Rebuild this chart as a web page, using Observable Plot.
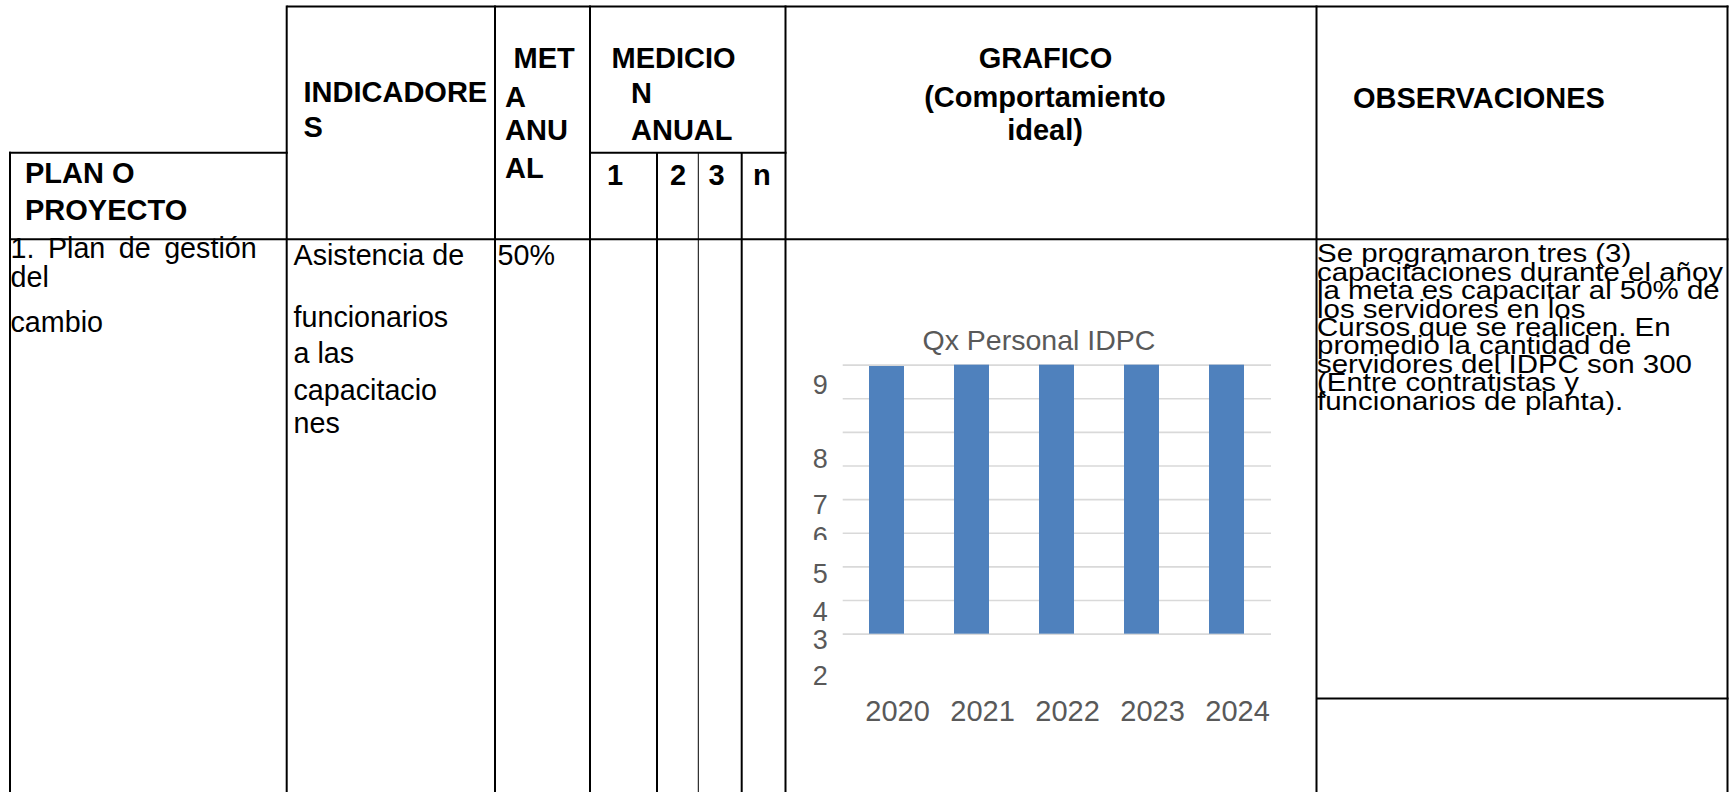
<!DOCTYPE html>
<html>
<head>
<meta charset="utf-8">
<script src="https://cdn.jsdelivr.net/npm/d3@7"></script>
<script src="https://cdn.jsdelivr.net/npm/@observablehq/plot@0.6"></script>
<style>
  html, body { margin: 0; padding: 0; background: #fff; }
  #page { position: relative; width: 1733px; height: 792px; overflow: hidden; font-family: "Liberation Sans", Arial, sans-serif; }
  #table { position: absolute; left: 0; top: 0; }
  #chart { position: absolute; left: 786px; top: 239px; }
  #obs { position: absolute; left: 1317px; top: 244.4px; font-size: 26.3px; line-height: 18.4px;
         white-space: pre; color: #000; transform: scaleX(1.12); transform-origin: 0 0; margin: 0; }
  #plan { position: absolute; left: 10.5px; top: 234.2px; font-size: 28.7px; line-height: 28.4px;
          white-space: pre; color: #000; word-spacing: 5.5px; margin: 0; }
</style>
</head>
<body>
<div id="page">
  <svg id="table" width="1733" height="792"></svg>
  <div id="chart"></div>
  <div id="plan"></div>
  <div id="obs"></div>
</div>
<script>
// ---------- chart data ----------
const years = ["2020", "2021", "2022", "2023", "2024"];
const values = [7.96, 8, 8, 8, 8];
const gridValues = [0, 1, 2, 3, 4, 5, 6, 7, 8];
const yTickLabels = ["9", "8", "7", "6", "5", "4", "3", "2"];
const yTickPositions = [7.40, 5.21, 3.83, 2.88, 1.77, 0.65, -0.19, -1.24];
const clippedLabel = "6";
const clipBelow = 2.80;
const chartTitle = "Qx Personal IDPC";

// ---------- table texts ----------
const headerTexts = ["INDICADORE", "S", "MET", "A", "ANU", "AL", "MEDICIO", "N", "ANUAL", "1", "2", "3", "n",
  "GRAFICO", "(Comportamiento", "ideal)", "OBSERVACIONES", "PLAN O", "PROYECTO"];
const planTexts = ["1. Plan de gestión", "del"];
const planLast = "cambio";
const indicadorTexts = ["Asistencia de", "funcionarios", "a las", "capacitacio", "nes"];
const metaText = "50%";
const observaciones = [
  "Se programaron tres (3)",
  "capacitaciones durante el añoy",
  "la meta es capacitar al 50% de",
  "los servidores en los",
  "Cursos que se realicen. En",
  "promedio la cantidad de",
  "servidores del IDPC son 300",
  "(Entre contratistas y",
  "funcionarios de planta)."
];

// ---------- table layout ----------
const FONT = "Liberation Sans, Arial, sans-serif";
const tbl = d3.select("#table");
const lineSpecs = [
  [286.7, 6.5, 1728.5, 6.5, 2],
  [9, 152.7, 287.7, 152.7, 2],
  [589, 152.7, 786.5, 152.7, 2],
  [9, 239.3, 1728.5, 239.3, 2],
  [1316, 698.5, 1728.5, 698.5, 2],
  [10, 151.7, 10, 792, 2],
  [286.7, 5.5, 286.7, 792, 2],
  [495, 5.5, 495, 792, 2],
  [590, 5.5, 590, 792, 2],
  [657, 152.7, 657, 792, 2],
  [698.3, 152.7, 698.3, 792, 1],
  [741.7, 152.7, 741.7, 792, 2],
  [785.5, 5.5, 785.5, 792, 2],
  [1316.5, 5.5, 1316.5, 792, 2],
  [1727.5, 5.5, 1727.5, 792, 2]
];
tbl.append("g").selectAll("line").data(lineSpecs).join("line")
  .attr("x1", d => d[0]).attr("y1", d => d[1]).attr("x2", d => d[2]).attr("y2", d => d[3])
  .attr("stroke", "#000").attr("stroke-width", d => d[4]);

const headerPos = [
  [303.5, 101.7, "start"], [303.5, 136.7, "start"], [513.5, 68.3, "start"], [505, 106.7, "start"],
  [505, 140, "start"], [505, 178.3, "start"], [611.5, 68.3, "start"], [631, 103.3, "start"],
  [631, 140, "start"], [607, 185, "start"], [670, 185, "start"], [708.5, 185, "start"], [753, 185, "start"],
  [1045.5, 68.3, "middle"], [1045, 106.7, "middle"], [1045, 140, "middle"], [1353, 108.3, "start"],
  [25, 183.3, "start"], [25, 220, "start"]
];
tbl.append("g").selectAll("text").data(headerTexts).join("text")
  .attr("x", (d, i) => headerPos[i][0]).attr("y", (d, i) => headerPos[i][1])
  .attr("text-anchor", (d, i) => headerPos[i][2])
  .attr("font-weight", "bold").attr("font-size", 29).attr("fill", "#000")
  .attr("font-family", FONT)
  .text(d => d);

// column 1: first two lines are a tight block, then "cambio"
document.getElementById("plan").textContent = planTexts.join("\n");
tbl.append("text").attr("x", 10.5).attr("y", 331.7).attr("font-size", 28.7)
  .attr("fill", "#000").attr("font-family", FONT).text(planLast);

// column 2
const indY = [265, 326.7, 363.3, 400, 433.3];
const indText = tbl.append("text").attr("font-size", 28.7).attr("fill", "#000").attr("font-family", FONT);
indText.selectAll("tspan").data(indicadorTexts).join("tspan")
  .attr("x", 293.5).attr("y", (d, i) => indY[i])
  .text(d => d);

// column 3
tbl.append("text").attr("x", 497.5).attr("y", 265).attr("font-size", 28.7)
  .attr("fill", "#000").attr("font-family", FONT).text(metaText);

// observaciones: a single text block with very tight leading
document.getElementById("obs").textContent = observaciones.join("\n");

// ---------- chart ----------
const data = years.map((year, i) => ({year, value: values[i]}));
const ticks = yTickLabels.map((label, i) => ({label, pos: yTickPositions[i]}));
const W = 530, H = 553;
const chart = Plot.plot({
  width: W,
  height: H,
  marginLeft: 56.7,
  marginRight: 45,
  marginTop: 125.67,
  marginBottom: 158.33,
  x: {type: "band", domain: years, paddingInner: 0.59, paddingOuter: 0.295, axis: null, label: null},
  y: {domain: [0, 8], axis: null},
  style: {fontFamily: FONT, color: "#595959", background: "transparent"},
  marks: [
    Plot.gridY(gridValues, {stroke: "#d9d9d9", strokeOpacity: 1, strokeWidth: 1.6}),
    Plot.barY(data, {x: "year", y: "value", fill: "#4f81bd"}),
    Plot.text(ticks, {y: "pos", text: "label", frameAnchor: "left", textAnchor: "end", lineAnchor: "middle", dx: -15.5, fontSize: 27, fill: "#595959"}),
    Plot.axisX({tickSize: 0, tickPadding: 66, fontSize: 29, dx: 10.5, fill: "#595959", label: null}),
    Plot.text([chartTitle], {text: d => d, frameAnchor: "top", lineAnchor: "middle", dy: -24.7, dx: -18.4, fontSize: 28.5, fill: "#595959"})
  ]
});
document.getElementById("chart").appendChild(chart);

// clip the partially hidden tick label (Plot positions each text with its own transform,
// so the clip rectangle is expressed relative to the label's anchor)
const ys = chart.scale("y");
const svg = d3.select(chart);
const labelPos = yTickPositions[yTickLabels.indexOf(clippedLabel)];
const localCut = ys.apply(clipBelow) - ys.apply(labelPos);
svg.append("defs").append("clipPath").attr("id", "clipLabel").attr("clipPathUnits", "userSpaceOnUse")
  .append("rect").attr("x", -100).attr("y", -100).attr("width", 200).attr("height", 100 + localCut);
svg.selectAll("text").filter(function() { return this.textContent === clippedLabel; })
  .attr("clip-path", "url(#clipLabel)");
</script>
</body>
</html>
